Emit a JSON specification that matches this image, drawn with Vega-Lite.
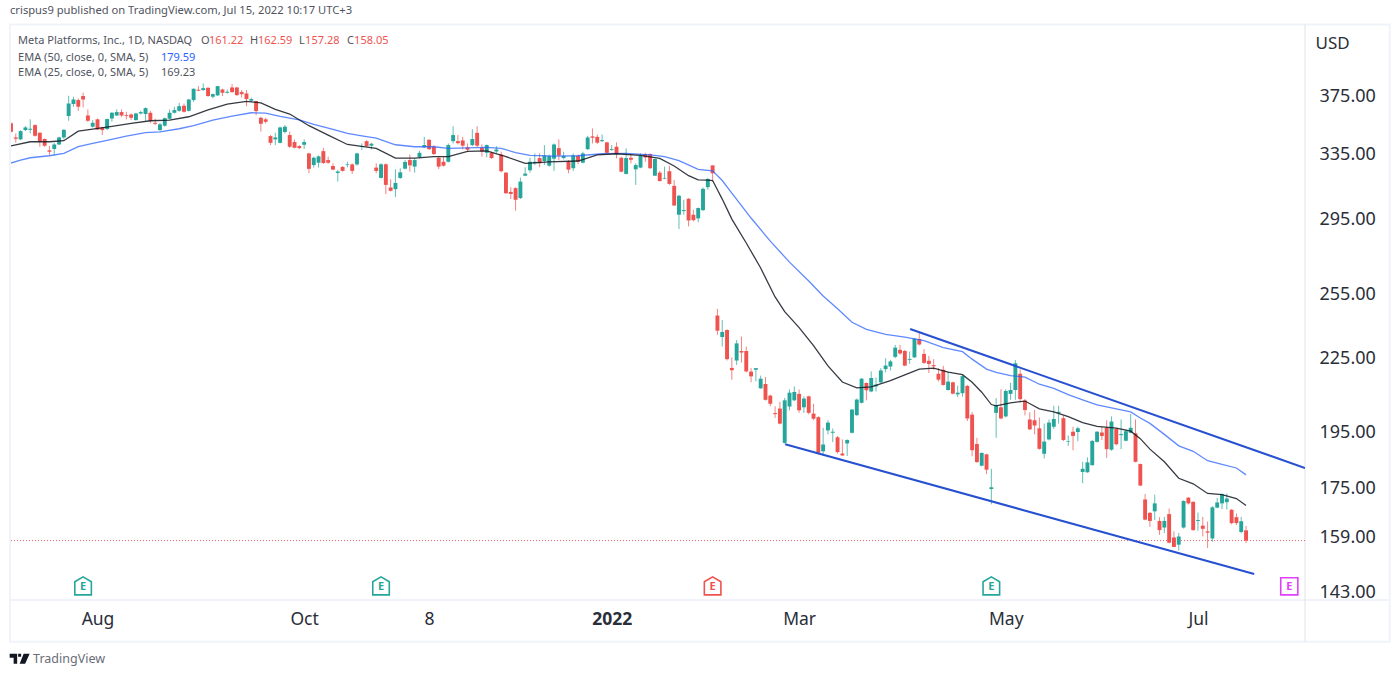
{
"$schema":"https://vega.github.io/schema/vega-lite/v6.json",
"background":"white",
"autosize":{"type":"none"},
"padding":{"left":11,"top":27,"right":95,"bottom":76},
"width":1294,
"height":573,
"title":{"text":"crispus9 published on TradingView.com, Jul 15, 2022 10:17 UTC+3","anchor":"start","frame":"group","offset":7,"dx":-1,"font":"Noto Sans","fontSize":11.2,"fontWeight":"normal","color":"#50535e"},
"config":{"view":{"stroke":null},"axis":{"grid":false}},
"datasets":{
"frame":[{"left":-0.2,"right":286.9,"top":431,"bottom":129.8,"split":269.27,"floor":140.8}],
"candles":[
{"i":0,"open":355.7,"high":356.4,"low":349.5,"close":350.0},
{"i":1,"open":346.1,"high":348.8,"low":342.6,"close":345.2},
{"i":2,"open":344.8,"high":351.1,"low":344.3,"close":350.4},
{"i":3,"open":351.1,"high":353.8,"low":350.4,"close":352.9},
{"i":4,"open":351.3,"high":358.5,"low":348.8,"close":352.0},
{"i":5,"open":354.5,"high":355.0,"low":346.6,"close":347.2},
{"i":6,"open":349.3,"high":349.3,"low":339.9,"close":343.2},
{"i":7,"open":345.0,"high":345.5,"low":339.9,"close":340.5},
{"i":8,"open":337.5,"high":340.3,"low":334.2,"close":336.6},
{"i":9,"open":338.4,"high":342.5,"low":334.2,"close":341.4},
{"i":10,"open":341.4,"high":346.6,"low":341.0,"close":346.1},
{"i":11,"open":346.1,"high":351.5,"low":344.8,"close":351.3},
{"i":12,"open":360.8,"high":375.3,"low":357.5,"close":369.7},
{"i":13,"open":369.3,"high":374.6,"low":367.4,"close":372.6},
{"i":14,"open":372.2,"high":373.4,"low":364.5,"close":367.4},
{"i":15,"open":375.1,"high":377.5,"low":366.9,"close":372.6},
{"i":16,"open":361.2,"high":365.5,"low":356.8,"close":357.5},
{"i":17,"open":353.4,"high":358.0,"low":352.9,"close":356.1},
{"i":18,"open":358.5,"high":359.1,"low":351.1,"close":351.5},
{"i":19,"open":352.9,"high":353.4,"low":347.7,"close":351.1},
{"i":20,"open":351.8,"high":359.1,"low":351.1,"close":358.7},
{"i":21,"open":359.1,"high":363.6,"low":356.8,"close":363.1},
{"i":22,"open":361.2,"high":365.5,"low":360.8,"close":363.6},
{"i":23,"open":363.6,"high":365.5,"low":360.3,"close":361.2},
{"i":24,"open":361.4,"high":363.8,"low":358.5,"close":360.8},
{"i":25,"open":361.9,"high":362.6,"low":358.0,"close":359.6},
{"i":26,"open":358.0,"high":363.1,"low":357.5,"close":362.6},
{"i":27,"open":362.6,"high":364.5,"low":361.9,"close":363.6},
{"i":28,"open":362.2,"high":366.9,"low":357.5,"close":366.4},
{"i":29,"open":363.1,"high":364.5,"low":355.7,"close":357.5},
{"i":30,"open":356.1,"high":359.1,"low":354.5,"close":355.4},
{"i":31,"open":351.1,"high":356.1,"low":350.4,"close":355.0},
{"i":32,"open":354.1,"high":359.8,"low":353.4,"close":359.3},
{"i":33,"open":358.9,"high":365.5,"low":358.5,"close":363.1},
{"i":34,"open":363.1,"high":367.4,"low":362.6,"close":365.0},
{"i":35,"open":364.5,"high":370.2,"low":363.8,"close":367.8},
{"i":36,"open":368.1,"high":369.7,"low":363.3,"close":363.8},
{"i":37,"open":364.5,"high":373.1,"low":364.0,"close":372.6},
{"i":38,"open":372.2,"high":380.9,"low":370.8,"close":380.4},
{"i":39,"open":379.7,"high":382.4,"low":378.8,"close":379.0},
{"i":40,"open":379.5,"high":384.4,"low":379.0,"close":380.9},
{"i":41,"open":381.2,"high":381.4,"low":374.6,"close":375.1},
{"i":42,"open":374.6,"high":377.0,"low":373.4,"close":376.5},
{"i":43,"open":375.6,"high":382.6,"low":375.1,"close":382.4},
{"i":44,"open":379.9,"high":380.6,"low":375.1,"close":377.5},
{"i":45,"open":377.5,"high":379.9,"low":377.0,"close":378.2},
{"i":46,"open":381.4,"high":383.9,"low":377.5,"close":378.0},
{"i":47,"open":381.4,"high":381.9,"low":375.1,"close":375.8},
{"i":48,"open":378.0,"high":379.5,"low":374.1,"close":376.5},
{"i":49,"open":377.0,"high":379.5,"low":367.8,"close":372.9},
{"i":50,"open":371.7,"high":373.9,"low":370.8,"close":372.9},
{"i":51,"open":371.5,"high":371.7,"low":361.4,"close":364.3},
{"i":52,"open":359.6,"high":360.3,"low":350.0,"close":355.4},
{"i":53,"open":358.5,"high":359.6,"low":355.7,"close":356.8},
{"i":54,"open":347.0,"high":347.7,"low":341.0,"close":342.5},
{"i":55,"open":344.8,"high":349.3,"low":341.0,"close":346.1},
{"i":56,"open":342.5,"high":353.4,"low":342.1,"close":352.9},
{"i":57,"open":349.8,"high":354.5,"low":348.8,"close":353.4},
{"i":58,"open":347.7,"high":350.0,"low":339.2,"close":339.9},
{"i":59,"open":343.0,"high":344.8,"low":338.8,"close":339.2},
{"i":60,"open":340.3,"high":341.0,"low":338.2,"close":339.0},
{"i":61,"open":341.2,"high":344.8,"low":338.4,"close":343.0},
{"i":62,"open":335.5,"high":336.0,"low":322.8,"close":325.6},
{"i":63,"open":328.0,"high":333.4,"low":326.4,"close":332.7},
{"i":64,"open":329.5,"high":334.2,"low":326.4,"close":333.6},
{"i":65,"open":337.0,"high":339.2,"low":328.7,"close":329.3},
{"i":66,"open":331.2,"high":333.4,"low":328.7,"close":329.5},
{"i":67,"open":327.4,"high":329.1,"low":324.9,"close":325.1},
{"i":68,"open":323.0,"high":324.9,"low":317.6,"close":323.9},
{"i":69,"open":326.8,"high":327.4,"low":323.9,"close":324.3},
{"i":70,"open":328.0,"high":330.1,"low":326.6,"close":328.4},
{"i":71,"open":328.4,"high":329.1,"low":322.4,"close":324.3},
{"i":72,"open":328.4,"high":336.0,"low":327.6,"close":335.5},
{"i":73,"open":339.9,"high":342.1,"low":337.7,"close":340.3},
{"i":74,"open":343.6,"high":344.3,"low":339.9,"close":340.3},
{"i":75,"open":340.6,"high":342.6,"low":338.1,"close":341.9},
{"i":76,"open":326.4,"high":329.1,"low":322.8,"close":324.3},
{"i":77,"open":319.9,"high":329.1,"low":319.5,"close":328.5},
{"i":78,"open":328.5,"high":329.1,"low":310.0,"close":315.6},
{"i":79,"open":314.0,"high":319.1,"low":311.6,"close":312.0},
{"i":80,"open":313.0,"high":325.3,"low":308.2,"close":316.8},
{"i":81,"open":319.9,"high":326.0,"low":319.3,"close":323.4},
{"i":82,"open":325.7,"high":331.2,"low":325.3,"close":330.0},
{"i":83,"open":331.2,"high":334.8,"low":323.8,"close":327.8},
{"i":84,"open":327.0,"high":332.3,"low":323.2,"close":331.2},
{"i":85,"open":333.2,"high":337.2,"low":332.3,"close":335.9},
{"i":86,"open":339.5,"high":346.5,"low":339.2,"close":341.0},
{"i":87,"open":344.5,"high":345.0,"low":337.7,"close":338.3},
{"i":88,"open":339.9,"high":341.0,"low":334.5,"close":335.1},
{"i":89,"open":332.7,"high":333.4,"low":325.5,"close":327.0},
{"i":90,"open":330.1,"high":333.4,"low":327.0,"close":327.6},
{"i":91,"open":330.1,"high":342.1,"low":329.7,"close":341.0},
{"i":92,"open":343.6,"high":353.7,"low":342.1,"close":347.7},
{"i":93,"open":343.6,"high":347.7,"low":341.4,"close":342.3},
{"i":94,"open":344.1,"high":346.5,"low":338.1,"close":340.6},
{"i":95,"open":339.5,"high":342.1,"low":336.6,"close":337.9},
{"i":96,"open":341.0,"high":351.7,"low":340.3,"close":345.0},
{"i":97,"open":349.2,"high":353.7,"low":339.5,"close":340.6},
{"i":98,"open":339.2,"high":341.4,"low":333.4,"close":336.8},
{"i":99,"open":335.9,"high":341.4,"low":332.9,"close":341.0},
{"i":100,"open":335.9,"high":336.6,"low":331.9,"close":332.5},
{"i":101,"open":336.8,"high":340.3,"low":335.5,"close":338.1},
{"i":102,"open":334.8,"high":336.6,"low":323.4,"close":324.1},
{"i":103,"open":323.2,"high":323.6,"low":310.1,"close":310.5},
{"i":104,"open":311.3,"high":314.2,"low":307.0,"close":310.1},
{"i":105,"open":313.6,"high":314.2,"low":300.1,"close":306.6},
{"i":106,"open":307.6,"high":320.1,"low":307.0,"close":317.6},
{"i":107,"open":321.3,"high":326.6,"low":321.1,"close":322.6},
{"i":108,"open":324.7,"high":332.7,"low":323.2,"close":330.1},
{"i":109,"open":329.1,"high":335.5,"low":328.0,"close":330.1},
{"i":110,"open":332.5,"high":335.5,"low":326.6,"close":329.1},
{"i":111,"open":330.6,"high":341.0,"low":328.0,"close":334.2},
{"i":112,"open":327.6,"high":334.8,"low":327.0,"close":333.8},
{"i":113,"open":332.1,"high":342.1,"low":324.3,"close":341.4},
{"i":114,"open":339.0,"high":344.8,"low":331.2,"close":334.2},
{"i":115,"open":332.5,"high":336.6,"low":331.6,"close":333.8},
{"i":116,"open":330.1,"high":331.2,"low":322.8,"close":325.1},
{"i":117,"open":326.0,"high":335.5,"low":324.3,"close":334.2},
{"i":118,"open":334.0,"high":334.8,"low":328.5,"close":330.1},
{"i":119,"open":329.5,"high":336.6,"low":329.1,"close":335.5},
{"i":120,"open":338.3,"high":347.2,"low":337.7,"close":346.1},
{"i":121,"open":346.8,"high":352.2,"low":342.1,"close":345.9},
{"i":122,"open":346.5,"high":348.1,"low":341.6,"close":342.6},
{"i":123,"open":343.6,"high":348.1,"low":343.0,"close":344.3},
{"i":124,"open":342.8,"high":343.2,"low":335.5,"close":335.9},
{"i":125,"open":337.7,"high":341.0,"low":337.2,"close":338.3},
{"i":126,"open":339.9,"high":342.8,"low":332.3,"close":335.5},
{"i":127,"open":332.7,"high":333.4,"low":323.4,"close":323.8},
{"i":128,"open":322.4,"high":338.8,"low":322.0,"close":332.5},
{"i":129,"open":332.7,"high":335.1,"low":329.1,"close":331.4},
{"i":130,"open":325.3,"high":329.1,"low":315.6,"close":328.0},
{"i":131,"open":326.4,"high":335.5,"low":326.0,"close":334.0},
{"i":132,"open":335.1,"high":335.9,"low":330.1,"close":332.9},
{"i":133,"open":335.1,"high":335.5,"low":325.5,"close":326.0},
{"i":134,"open":321.3,"high":332.3,"low":321.1,"close":331.9},
{"i":135,"open":323.2,"high":324.3,"low":317.6,"close":318.0},
{"i":136,"open":319.5,"high":327.0,"low":319.1,"close":319.9},
{"i":137,"open":324.1,"high":327.6,"low":315.6,"close":316.2},
{"i":138,"open":315.0,"high":318.7,"low":303.0,"close":303.2},
{"i":139,"open":297.8,"high":309.6,"low":289.6,"close":309.0},
{"i":140,"open":299.9,"high":306.6,"low":297.8,"close":300.5},
{"i":141,"open":307.2,"high":307.6,"low":291.1,"close":294.5},
{"i":142,"open":297.8,"high":300.7,"low":294.0,"close":294.7},
{"i":143,"open":295.7,"high":302.0,"low":293.4,"close":301.7},
{"i":144,"open":300.5,"high":314.0,"low":299.9,"close":313.2},
{"i":145,"open":314.2,"high":319.7,"low":312.6,"close":319.3},
{"i":146,"open":327.8,"high":327.8,"low":317.6,"close":322.8},
{"i":147,"open":244.8,"high":248.0,"low":235.8,"close":237.7},
{"i":148,"open":234.8,"high":242.7,"low":230.5,"close":237.1},
{"i":149,"open":238.0,"high":238.3,"low":224.3,"close":224.9},
{"i":150,"open":221.1,"high":225.7,"low":216.1,"close":220.1},
{"i":151,"open":224.3,"high":233.4,"low":222.4,"close":231.9},
{"i":152,"open":228.5,"high":235.0,"low":223.4,"close":227.8},
{"i":153,"open":228.5,"high":230.5,"low":219.2,"close":219.6},
{"i":154,"open":219.5,"high":221.0,"low":215.0,"close":217.5},
{"i":155,"open":220.3,"high":221.0,"low":215.4,"close":221.0},
{"i":156,"open":212.5,"high":217.8,"low":212.3,"close":216.5},
{"i":157,"open":214.3,"high":217.2,"low":207.5,"close":207.8},
{"i":158,"open":209.5,"high":209.9,"low":205.2,"close":206.2},
{"i":159,"open":202.5,"high":205.2,"low":200.6,"close":202.1},
{"i":160,"open":204.3,"high":207.0,"low":198.1,"close":198.4},
{"i":161,"open":191.1,"high":208.6,"low":190.8,"close":207.6},
{"i":162,"open":205.1,"high":212.0,"low":203.6,"close":210.7},
{"i":163,"open":207.6,"high":213.3,"low":207.3,"close":211.0},
{"i":164,"open":210.2,"high":212.0,"low":202.6,"close":203.6},
{"i":165,"open":204.8,"high":209.2,"low":202.6,"close":208.3},
{"i":166,"open":209.2,"high":209.5,"low":202.0,"close":202.6},
{"i":167,"open":202.3,"high":206.2,"low":199.7,"close":200.3},
{"i":168,"open":200.9,"high":201.3,"low":186.9,"close":187.5},
{"i":169,"open":188.0,"high":196.8,"low":186.5,"close":190.5},
{"i":170,"open":195.8,"high":199.7,"low":194.3,"close":198.8},
{"i":171,"open":194.9,"high":196.5,"low":191.4,"close":195.3},
{"i":172,"open":193.2,"high":193.7,"low":187.2,"close":187.7},
{"i":173,"open":187.2,"high":192.4,"low":186.3,"close":186.5},
{"i":174,"open":190.9,"high":192.4,"low":186.3,"close":192.2},
{"i":175,"open":194.9,"high":204.1,"low":194.6,"close":203.9},
{"i":176,"open":201.7,"high":208.3,"low":201.3,"close":207.9},
{"i":177,"open":206.6,"high":216.8,"low":206.3,"close":216.5},
{"i":178,"open":214.7,"high":215.0,"low":207.6,"close":211.7},
{"i":179,"open":211.2,"high":219.6,"low":210.9,"close":216.8},
{"i":180,"open":213.3,"high":217.0,"low":211.2,"close":214.0},
{"i":181,"open":215.0,"high":221.0,"low":214.7,"close":220.0},
{"i":182,"open":220.6,"high":225.3,"low":219.2,"close":222.1},
{"i":183,"open":221.7,"high":224.6,"low":220.0,"close":223.9},
{"i":184,"open":225.9,"high":231.2,"low":225.3,"close":230.0},
{"i":185,"open":229.0,"high":231.2,"low":226.8,"close":227.4},
{"i":186,"open":228.5,"high":229.0,"low":221.8,"close":222.1},
{"i":187,"open":224.6,"high":228.2,"low":222.8,"close":225.0},
{"i":188,"open":225.7,"high":234.4,"low":225.4,"close":234.0},
{"i":189,"open":233.9,"high":237.3,"low":231.0,"close":231.4},
{"i":190,"open":227.2,"high":229.3,"low":222.8,"close":223.3},
{"i":191,"open":224.2,"high":226.3,"low":218.9,"close":222.8},
{"i":192,"open":222.3,"high":224.9,"low":220.3,"close":221.8},
{"i":193,"open":218.6,"high":221.0,"low":215.4,"close":216.1},
{"i":194,"open":220.3,"high":222.0,"low":213.6,"close":213.9},
{"i":195,"open":211.8,"high":219.6,"low":211.6,"close":215.3},
{"i":196,"open":215.0,"high":215.3,"low":210.0,"close":210.3},
{"i":197,"open":210.0,"high":213.6,"low":208.9,"close":210.7},
{"i":198,"open":210.5,"high":218.0,"low":209.1,"close":217.6},
{"i":199,"open":213.5,"high":213.9,"low":199.4,"close":200.4},
{"i":200,"open":201.9,"high":202.9,"low":186.2,"close":188.4},
{"i":201,"open":190.7,"high":193.0,"low":183.8,"close":184.1},
{"i":202,"open":182.8,"high":187.6,"low":182.6,"close":187.4},
{"i":203,"open":186.9,"high":187.1,"low":179.9,"close":181.4},
{"i":204,"open":174.7,"high":181.7,"low":169.6,"close":175.3},
{"i":205,"open":202.6,"high":208.5,"low":193.0,"close":205.7},
{"i":206,"open":204.8,"high":212.1,"low":200.1,"close":200.4},
{"i":207,"open":201.2,"high":212.1,"low":200.8,"close":211.4},
{"i":208,"open":210.2,"high":214.8,"low":207.8,"close":211.8},
{"i":209,"open":211.8,"high":224.5,"low":207.8,"close":223.1},
{"i":210,"open":218.6,"high":220.5,"low":206.8,"close":208.1},
{"i":211,"open":207.5,"high":208.1,"low":201.6,"close":203.7},
{"i":212,"open":200.0,"high":202.8,"low":196.0,"close":196.2},
{"i":213,"open":199.7,"high":203.8,"low":194.3,"close":197.7},
{"i":214,"open":196.6,"high":200.8,"low":188.6,"close":188.9},
{"i":215,"open":187.1,"high":198.4,"low":185.4,"close":191.6},
{"i":216,"open":192.4,"high":200.0,"low":192.0,"close":198.8},
{"i":217,"open":197.2,"high":205.4,"low":196.4,"close":200.2},
{"i":218,"open":202.5,"high":205.4,"low":198.4,"close":203.0},
{"i":219,"open":200.5,"high":201.5,"low":191.8,"close":192.2},
{"i":220,"open":191.6,"high":193.9,"low":190.0,"close":191.8},
{"i":221,"open":195.3,"high":197.2,"low":188.4,"close":193.7},
{"i":222,"open":195.2,"high":197.2,"low":191.7,"close":196.6},
{"i":223,"open":180.6,"high":184.2,"low":176.7,"close":181.7},
{"i":224,"open":180.5,"high":185.8,"low":180.3,"close":184.0},
{"i":225,"open":183.0,"high":192.2,"low":182.8,"close":191.8},
{"i":226,"open":191.5,"high":195.5,"low":191.2,"close":195.3},
{"i":227,"open":195.0,"high":197.2,"low":192.2,"close":193.7},
{"i":228,"open":196.8,"high":199.7,"low":185.6,"close":188.8},
{"i":229,"open":188.6,"high":201.2,"low":188.2,"close":199.2},
{"i":230,"open":196.4,"high":196.7,"low":190.2,"close":190.6},
{"i":231,"open":194.0,"high":200.0,"low":188.8,"close":194.4},
{"i":232,"open":191.9,"high":196.2,"low":191.7,"close":195.5},
{"i":233,"open":194.9,"high":202.2,"low":194.7,"close":196.8},
{"i":234,"open":194.7,"high":200.0,"low":184.0,"close":184.2},
{"i":235,"open":183.4,"high":183.6,"low":175.7,"close":175.9},
{"i":236,"open":171.2,"high":173.0,"low":164.4,"close":164.6},
{"i":237,"open":166.8,"high":167.1,"low":162.4,"close":164.2},
{"i":238,"open":167.3,"high":172.8,"low":164.5,"close":169.9},
{"i":239,"open":164.2,"high":165.4,"low":159.8,"close":161.3},
{"i":240,"open":162.1,"high":165.5,"low":160.4,"close":164.2},
{"i":241,"open":166.4,"high":168.2,"low":157.2,"close":157.4},
{"i":242,"open":159.0,"high":160.9,"low":156.0,"close":156.1},
{"i":243,"open":156.8,"high":160.4,"low":155.0,"close":159.3},
{"i":244,"open":162.1,"high":170.9,"low":161.8,"close":170.7},
{"i":245,"open":171.8,"high":172.0,"low":169.5,"close":169.9},
{"i":246,"open":170.4,"high":170.6,"low":161.1,"close":161.3},
{"i":247,"open":164.2,"high":166.9,"low":161.1,"close":164.5},
{"i":248,"open":162.7,"high":165.5,"low":159.3,"close":161.7},
{"i":249,"open":160.9,"high":164.0,"low":155.8,"close":160.5},
{"i":250,"open":158.7,"high":169.0,"low":157.7,"close":168.6},
{"i":251,"open":168.5,"high":171.7,"low":168.3,"close":170.2},
{"i":252,"open":169.9,"high":173.2,"low":168.0,"close":172.9},
{"i":253,"open":170.3,"high":173.2,"low":167.9,"close":171.5},
{"i":254,"open":167.8,"high":168.0,"low":163.1,"close":163.5},
{"i":255,"open":165.4,"high":166.6,"low":162.9,"close":163.5},
{"i":256,"open":160.7,"high":165.5,"low":160.3,"close":164.1},
{"i":257,"open":161.22,"high":162.59,"low":157.28,"close":158.05}
],
"ema25":[
{"i":0,"value":340.5},{"i":4,"value":343.2},{"i":8,"value":343.2},{"i":11,"value":343.9},{"i":14,"value":350.4},{"i":17,"value":351.8},{"i":21,"value":353.6},{"i":25,"value":355.7},{"i":29,"value":357.5},{"i":33,"value":358.0},{"i":37,"value":360.3},{"i":41,"value":365.2},{"i":45,"value":369.3},{"i":49,"value":371.2},{"i":52,"value":370.2},{"i":55,"value":365.5},{"i":58,"value":362.2},{"i":62,"value":354.1},{"i":66,"value":347.7},{"i":70,"value":341.4},{"i":73,"value":340.1},{"i":76,"value":338.8},{"i":80,"value":332.5},{"i":84,"value":332.5},{"i":88,"value":333.4},{"i":91,"value":333.4},{"i":95,"value":336.8},{"i":99,"value":337.2},{"i":103,"value":333.4},{"i":107,"value":329.1},{"i":112,"value":330.0},{"i":118,"value":330.6},{"i":122,"value":334.5},{"i":126,"value":335.3},{"i":131,"value":334.2},{"i":135,"value":332.3},{"i":138,"value":327.4},{"i":141,"value":321.3},{"i":143,"value":318.7},{"i":145,"value":318.5},{"i":146,"value":318.3},{"i":147,"value":312.6},{"i":148,"value":307.0},{"i":150,"value":295.3},{"i":153,"value":281.9},{"i":156,"value":268.5},{"i":159,"value":253.8},{"i":161,"value":246.7},{"i":164,"value":239.1},{"i":167,"value":230.9},{"i":170,"value":222.0},{"i":173,"value":215.1},{"i":176,"value":212.7},{"i":179,"value":213.1},{"i":183,"value":215.7},{"i":186,"value":218.1},{"i":189,"value":220.6},{"i":192,"value":221.0},{"i":195,"value":219.3},{"i":198,"value":218.2},{"i":200,"value":215.0},{"i":202,"value":210.9},{"i":204,"value":205.9},{"i":205,"value":205.4},{"i":208,"value":206.6},{"i":211,"value":207.3},{"i":214,"value":204.2},{"i":217,"value":203.0},{"i":220,"value":201.1},{"i":223,"value":198.8},{"i":226,"value":197.3},{"i":230,"value":196.7},{"i":233,"value":195.5},{"i":235,"value":192.7},{"i":237,"value":188.8},{"i":240,"value":184.2},{"i":243,"value":178.4},{"i":246,"value":176.5},{"i":249,"value":173.2},{"i":252,"value":172.8},{"i":255,"value":171.5},{"i":257,"value":169.23}
],
"ema50":[
{"i":0,"value":329.3},{"i":2,"value":331.2},{"i":4,"value":332.7},{"i":8,"value":334.0},{"i":11,"value":335.5},{"i":14,"value":339.9},{"i":17,"value":342.1},{"i":20,"value":344.1},{"i":24,"value":347.0},{"i":28,"value":349.3},{"i":31,"value":349.8},{"i":35,"value":352.0},{"i":38,"value":354.1},{"i":42,"value":358.0},{"i":46,"value":360.8},{"i":50,"value":363.1},{"i":53,"value":362.8},{"i":56,"value":360.5},{"i":60,"value":358.2},{"i":63,"value":355.0},{"i":67,"value":351.5},{"i":70,"value":348.8},{"i":73,"value":347.1},{"i":76,"value":345.6},{"i":80,"value":341.2},{"i":84,"value":339.9},{"i":88,"value":339.9},{"i":91,"value":338.8},{"i":95,"value":339.2},{"i":99,"value":339.5},{"i":102,"value":338.8},{"i":105,"value":336.1},{"i":108,"value":334.2},{"i":113,"value":333.8},{"i":118,"value":334.0},{"i":123,"value":335.3},{"i":128,"value":335.5},{"i":133,"value":334.6},{"i":136,"value":333.4},{"i":139,"value":330.8},{"i":143,"value":325.3},{"i":146,"value":324.3},{"i":148,"value":318.3},{"i":150,"value":310.6},{"i":154,"value":295.9},{"i":158,"value":282.9},{"i":162,"value":271.6},{"i":166,"value":261.8},{"i":169,"value":254.3},{"i":172,"value":248.0},{"i":175,"value":241.6},{"i":178,"value":238.3},{"i":182,"value":236.0},{"i":186,"value":234.7},{"i":190,"value":233.1},{"i":194,"value":230.0},{"i":198,"value":228.2},{"i":200,"value":224.9},{"i":203,"value":220.6},{"i":205,"value":219.2},{"i":208,"value":217.8},{"i":211,"value":217.2},{"i":214,"value":214.2},{"i":217,"value":212.5},{"i":220,"value":209.9},{"i":223,"value":207.8},{"i":226,"value":205.8},{"i":230,"value":204.2},{"i":233,"value":203.0},{"i":235,"value":200.6},{"i":237,"value":198.5},{"i":240,"value":194.3},{"i":243,"value":190.0},{"i":246,"value":188.0},{"i":249,"value":184.6},{"i":252,"value":183.3},{"i":255,"value":182.0},{"i":257,"value":179.59}
],
"trend":[
{"line":"upper","i":187.1,"value":238.5},{"line":"upper","i":269.27,"value":182.0},
{"line":"lower","i":161.1,"value":190.6},{"line":"lower","i":258.7,"value":148.1}
],
"earnings":[
{"i":15,"value":144.6,"status":"beat"},{"i":77,"value":144.6,"status":"beat"},{"i":146,"value":144.6,"status":"miss"},{"i":204,"value":144.6,"status":"beat"},{"i":266,"value":144.6,"status":"next"}
],
"notes":[
{"i":1.48,"value":417.3,"label":"Meta Platforms, Inc., 1D, NASDAQ","tone":"text"},
{"i":39.55,"value":417.3,"label":"O","tone":"text"},
{"i":41.2,"value":417.3,"label":"161.22","tone":"down"},
{"i":49.75,"value":417.3,"label":"H","tone":"text"},
{"i":51.4,"value":417.3,"label":"162.59","tone":"down"},
{"i":59.95,"value":417.3,"label":"L","tone":"text"},
{"i":61.2,"value":417.3,"label":"157.28","tone":"down"},
{"i":69.93,"value":417.3,"label":"C","tone":"text"},
{"i":71.4,"value":417.3,"label":"158.05","tone":"down"},
{"i":1.48,"value":404.1,"label":"EMA (50, close, 0, SMA, 5)","tone":"text"},
{"i":31.2,"value":404.1,"label":"179.59","tone":"blue"},
{"i":1.48,"value":392.1,"label":"EMA (25, close, 0, SMA, 5)","tone":"text"},
{"i":31.2,"value":392.1,"label":"169.23","tone":"text"}
],
"footer":[{"i":1.8,"mark":4.6,"value":125.6,"label":"TradingView"}]
},
"encoding":{
"x":{"field":"i","type":"quantitative","title":null,"scale":{"domain":[0,269.27],"nice":false,"zero":false,"padding":0},
"axis":{"values":[18,61,87,125,164,207,247],"labelExpr":"datum.value==18?'Aug':datum.value==61?'Oct':datum.value==87?'8':datum.value==125?'2022':datum.value==164?'Mar':datum.value==207?'May':'Jul'","ticks":false,"domain":false,"grid":false,"labelFont":"Noto Sans","labelFontSize":17.5,"labelColor":"#2a2e39","labelPadding":10,"labelOverlap":false,"labelFontWeight":{"condition":{"test":"datum.value==125","value":"bold"},"value":"normal"}}}
},
"layer":[
{"data":{"name":"frame"},"mark":{"type":"rect","fill":"transparent","stroke":"#f0f3fa","strokeWidth":2,"clip":false},
"encoding":{"x":{"field":"left","type":"quantitative"},"x2":{"field":"right"},
"y":{"field":"top","type":"quantitative","title":"USD","scale":{"type":"log","domain":[140.8,429],"nice":false},
"axis":{"orient":"right","values":[375,335,295,255,225,195,175,159,143],"format":".2f","ticks":false,"domain":false,"grid":false,"labelFont":"Noto Sans","labelFontSize":18,"labelColor":"#2a2e39","labelPadding":14,"labelAlign":"left","labelOverlap":false,"labelBound":false,"titleFont":"Noto Sans","titleFontSize":17,"titleFontWeight":"normal","titleColor":"#2a2e39","titleAngle":0,"titleAlign":"left","titleBaseline":"middle","titleX":10,"titleY":16}},
"y2":{"field":"bottom"}}},
{"data":{"name":"frame"},"mark":{"type":"rule","stroke":"#f0f3fa","strokeWidth":2,"clip":false},
"encoding":{"x":{"field":"left","type":"quantitative"},"x2":{"field":"right"},"y":{"field":"floor","type":"quantitative"}}},
{"data":{"name":"frame"},"mark":{"type":"rule","stroke":"#e0e3eb","strokeWidth":1,"clip":false},
"encoding":{"x":{"field":"split","type":"quantitative"},"y":{"field":"top","type":"quantitative"},"y2":{"field":"bottom"}}},
{"data":{"values":[{"value":158.05}]},"mark":{"type":"rule","stroke":"#ef5350","strokeWidth":1,"strokeDash":[1,2],"opacity":0.9},
"encoding":{"x":null,"y":{"field":"value","type":"quantitative"}}},
{"data":{"name":"candles"},"mark":{"type":"rule","strokeWidth":1,"opacity":0.72,"clip":true},
"encoding":{"y":{"field":"low","type":"quantitative"},"y2":{"field":"high"},
"color":{"condition":{"test":"datum.close>=datum.open","value":"#26a69a"},"value":"#ef5350"}}},
{"data":{"name":"candles"},"mark":{"type":"bar","size":3.9,"clip":true},
"encoding":{"y":{"field":"open","type":"quantitative"},"y2":{"field":"close"},
"color":{"condition":{"test":"datum.close>=datum.open","value":"#26a69a"},"value":"#ef5350"}}},
{"data":{"name":"ema50"},"mark":{"type":"line","stroke":"#2962ff","strokeWidth":1.3,"opacity":0.75,"clip":true},
"encoding":{"y":{"field":"value","type":"quantitative"}}},
{"data":{"name":"ema25"},"mark":{"type":"line","stroke":"#131722","strokeWidth":1.3,"opacity":0.85,"clip":true},
"encoding":{"y":{"field":"value","type":"quantitative"}}},
{"data":{"name":"trend"},"mark":{"type":"line","stroke":"#2750d0","strokeWidth":2,"clip":true},
"encoding":{"y":{"field":"value","type":"quantitative"},"detail":{"field":"line"}}},
{"data":{"name":"earnings"},"transform":[{"filter":"datum.status!='next'"}],
"mark":{"type":"point","shape":"M-.92,-.5L0,-1.05L.92,-.5V.95H-.92Z","size":324,"filled":true,"fill":"white","strokeWidth":1.6,"opacity":1},
"encoding":{"y":{"field":"value","type":"quantitative"},"stroke":{"field":"status","type":"nominal","legend":null,"scale":{"domain":["beat","miss","next"],"range":["#26a69a","#ef5350","#e040fb"]}}}},
{"data":{"name":"earnings"},"transform":[{"filter":"datum.status=='next'"}],
"mark":{"type":"point","shape":"M-.95,-.95H.95V.95H-.95Z","size":324,"filled":true,"fill":"white","strokeWidth":1.6,"opacity":1},
"encoding":{"y":{"field":"value","type":"quantitative"},"stroke":{"field":"status","type":"nominal","legend":null}}},
{"data":{"name":"earnings"},"mark":{"type":"text","text":"E","font":"Noto Sans","fontSize":11,"fontWeight":"bold","dy":1},
"encoding":{"y":{"field":"value","type":"quantitative"},"color":{"field":"status","type":"nominal","legend":null,"scale":{"domain":["beat","miss","next"],"range":["#26a69a","#ef5350","#e040fb"]}}}},
{"data":{"name":"notes"},"mark":{"type":"text","align":"left","baseline":"middle","font":"Noto Sans","fontSize":11,"clip":false},
"encoding":{"y":{"field":"value","type":"quantitative"},"text":{"field":"label"},"fill":{"field":"tone","type":"nominal","legend":null,"scale":{"domain":["text","down","blue"],"range":["#50535e","#ef5350","#2962ff"]}}}},
{"data":{"name":"footer"},"mark":{"type":"point","shape":"M-1,-.5H-.25V.5H-.6V-.1H-1ZM-.15,-.5H.15V-.2H-.15ZM.4,-.5H1L.55,.5H0Z","size":400,"filled":true,"fill":"#131722","strokeWidth":0,"opacity":1,"clip":false},
"encoding":{"y":{"field":"value","type":"quantitative"}}},
{"data":{"name":"footer"},"mark":{"type":"text","align":"left","baseline":"middle","font":"Noto Sans","fontSize":12.5,"color":"#6a6d78","clip":false},
"encoding":{"x":{"field":"mark","type":"quantitative"},"y":{"field":"value","type":"quantitative"},"text":{"field":"label"}}}
]
}
